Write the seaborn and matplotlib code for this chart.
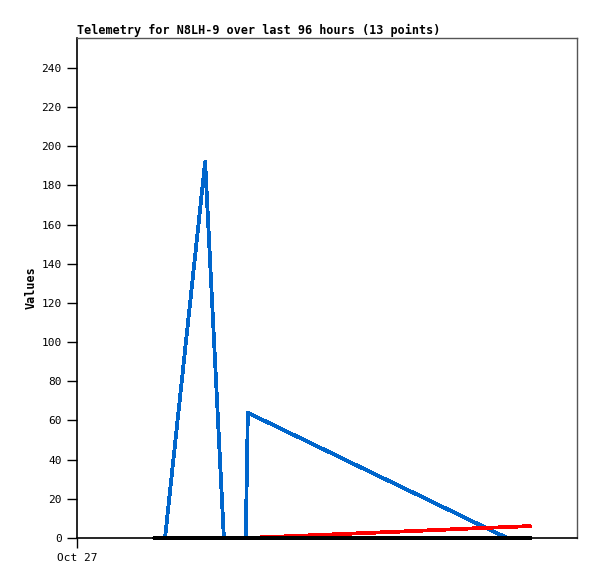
import matplotlib
matplotlib.use("Agg")
import matplotlib.pyplot as plt
import seaborn as sns
import pandas as pd

# Hours since Oct 27 00:00
hours = [14.8, 16.9, 24.6, 28.2, 32.4, 32.8, 35.1, 45, 55, 65, 75, 82.6, 87.0]
blue_vals = [0, 0, 192, 0, 0, 64, 61.0, 48.3, 35.4, 22.6, 9.7, 0, 0]
red_vals = [0, 0, 0, 0, 0, 0, 0.3, 1.4, 2.5, 3.6, 4.8, 5.6, 6.1]
black_vals = [0] * 13
series_names = ["blue", "red", "black"]
series_colors = ["#0066cc", "#ff0000", "#000000"]
x_tick_labels = ["Oct 27"]
y_ticks = list(range(0, 241, 20))

data = {"blue": blue_vals, "red": red_vals, "black": black_vals}

sns.set_style("white")
plt.rcParams["font.family"] = ["DejaVu Sans Mono"]
plt.rcParams["text.color"] = "black"
plt.rcParams["axes.labelcolor"] = "black"
plt.rcParams["xtick.color"] = "black"
plt.rcParams["ytick.color"] = "black"

fig = plt.figure(figsize=(5.97, 5.79), dpi=100)
ax = fig.add_axes([77/597, 41/579, 500/597, 500/579])

for z, (name, color) in enumerate(zip(series_names, series_colors)):
    df = pd.DataFrame({"hours": hours, "value": data[name]})
    sns.lineplot(data=df, x="hours", y="value", color=color, linewidth=2, ax=ax,
                 estimator=None, sort=False, antialiased=False, snap=False,
                 zorder=3 + z, clip_on=False)

ax.set_xlim(0, 96)
ax.set_ylim(0, 255.3)
ax.set_yticks(y_ticks)
ax.set_yticklabels([str(v) for v in y_ticks], fontsize=8)
ax.set_xticks([0])
ax.set_xticklabels(x_tick_labels, fontsize=8)
ax.tick_params(axis="both", direction="out", length=7, width=1, color="black",
               pad=4, bottom=True, left=True, labelcolor="black")
ax.set_xlabel("")
ax.set_ylabel("Values", fontsize=8.5, fontweight="bold", labelpad=3)
ax.set_title("Telemetry for N8LH-9 over last 96 hours (13 points)", loc="left",
             fontsize=8.5, fontweight="bold", pad=3, color="black")

for side in ["left", "bottom"]:
    ax.spines[side].set_color("black")
    ax.spines[side].set_linewidth(1.2)
for side in ["top", "right"]:
    ax.spines[side].set_color("#555555")
    ax.spines[side].set_linewidth(1)

fig.savefig("out.png", dpi=100)
